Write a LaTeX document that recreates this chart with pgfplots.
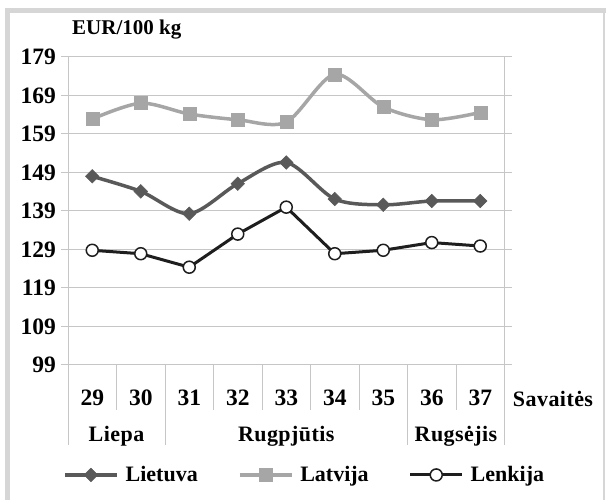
\documentclass[border=0pt]{standalone}
\usepackage{fontspec}
\setmainfont{Liberation Serif}
\usepackage{pgfplots}
\pgfplotsset{compat=1.18}
\definecolor{lt}{HTML}{595959}
\definecolor{lv}{HTML}{A6A6A6}
\definecolor{pl}{HTML}{1E1E1E}
\definecolor{gridc}{HTML}{C6C6C6}
\definecolor{framec}{HTML}{D6D6D6}
\newcommand{\numf}{\fontsize{23.5bp}{26bp}\selectfont\bfseries}
\newcommand{\txtf}{\fontsize{22bp}{26bp}\selectfont\bfseries\addfontfeature{LetterSpace=2}}
\newcommand{\legf}{\fontsize{22bp}{26bp}\selectfont\bfseries}
\begin{document}
\fontsize{21bp}{25bp}\selectfont\bfseries
\begin{tikzpicture}[x=1bp,y=1bp]
\useasboundingbox (0,0) rectangle (606,500);
\fill[framec] (5,0) rectangle (10,492);
\fill[framec] (5,487) rectangle (606,492);
\fill[framec] (603,0) rectangle (605,492);
\node[anchor=west, inner sep=0] at (72,470) {EUR/100 kg};
\node[inner sep=0, font=\txtf] at (553,101) {Savaitės};
\begin{axis}[
  at={(68bp,135bp)}, anchor=south west,
  scale only axis, width=436.5bp, height=308bp,
  xmin=0, xmax=9, ymin=99, ymax=179,
  ytick={99,109,...,179}, xtick=\empty,
  ymajorgrids, grid style={gridc, line width=1bp},
  axis line style={gridc, line width=1bp},
  ytick style={gridc, line width=1bp},
  tick align=outside, major tick length=7bp,
  yticklabel style={font=\numf, inner sep=0pt, xshift=-5bp},
  /pgf/number format/assume math mode=true,
  clip=false,
  legend columns=3,
  legend style={draw=none, fill=none, at={(axis description cs:-0.0115,-0.357)}, anchor=west, inner sep=0pt,
    nodes={inner sep=0pt, anchor=west, font=\legf},
    /tikz/every odd column/.append style={column sep=7bp},
    /tikz/every even column/.append style={column sep=40bp}},
  legend image code/.code={\draw[mark repeat=2, mark phase=2, #1] plot coordinates {(0bp,0bp) (26bp,0bp) (52bp,0bp)};},
]
\addplot[lt, line width=3.5bp, smooth, mark=square*, mark size=4.8bp, mark options={rotate=45, fill=lt, draw=lt, line width=0.5bp}]
  coordinates {(0.5,148.0) (1.5,144.1) (2.5,138.3) (3.5,146.1) (4.5,151.6) (5.5,142.1) (6.5,140.6) (7.5,141.6) (8.5,141.6)};
\addlegendentry{Lietuva}
\addplot[lv, line width=3.5bp, smooth, mark=square*, mark size=6.5bp, mark options={fill=lv, draw=lv, line width=0.5bp}]
  coordinates {(0.5,162.9) (1.5,167.0) (2.5,164.2) (3.5,162.7) (4.5,162.1) (5.5,174.5) (6.5,166.0) (7.5,162.7) (8.5,164.6)};
\addlegendentry{Latvija}
\addplot[pl, line width=3bp, mark=*, mark size=6bp, mark options={fill=white, draw=pl, line width=1.5bp}]
  coordinates {(0.5,128.8) (1.5,127.9) (2.5,124.4) (3.5,133.0) (4.5,140.0) (5.5,127.9) (6.5,128.8) (7.5,130.8) (8.5,129.9)};
\addlegendentry{Lenkija}
\pgfplotsinvokeforeach{1,3,4,5,6,8}{\draw[gridc, line width=1bp] (axis cs:#1,99) -- ++(0bp,-45bp);}
\pgfplotsinvokeforeach{0,2,7,9}{\draw[gridc, line width=1bp] (axis cs:#1,99) -- ++(0bp,-80bp);}
\node[inner sep=0, font=\numf] at (axis cs:0.5,99) [yshift=-33bp] {29};
\node[inner sep=0, font=\numf] at (axis cs:1.5,99) [yshift=-33bp] {30};
\node[inner sep=0, font=\numf] at (axis cs:2.5,99) [yshift=-33bp] {31};
\node[inner sep=0, font=\numf] at (axis cs:3.5,99) [yshift=-33bp] {32};
\node[inner sep=0, font=\numf] at (axis cs:4.5,99) [yshift=-33bp] {33};
\node[inner sep=0, font=\numf] at (axis cs:5.5,99) [yshift=-33bp] {34};
\node[inner sep=0, font=\numf] at (axis cs:6.5,99) [yshift=-33bp] {35};
\node[inner sep=0, font=\numf] at (axis cs:7.5,99) [yshift=-33bp] {36};
\node[inner sep=0, font=\numf] at (axis cs:8.5,99) [yshift=-33bp] {37};
\node[inner sep=0, font=\txtf] at (axis cs:1,99) [yshift=-71bp] {Liepa};
\node[inner sep=0, font=\txtf] at (axis cs:4.5,99) [yshift=-71bp] {Rugpjūtis};
\node[inner sep=0, font=\txtf] at (axis cs:8,99) [yshift=-71bp] {Rugsėjis};
\end{axis}
\end{tikzpicture}
\end{document}
